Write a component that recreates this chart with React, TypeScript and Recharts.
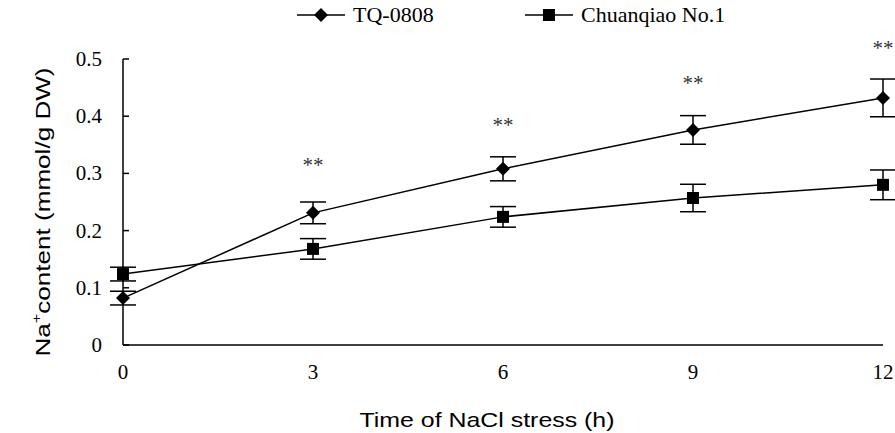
import React from 'react';
import {
  ComposedChart,
  Line,
  XAxis,
  YAxis,
  ErrorBar,
  Legend,
  ReferenceDot
} from 'recharts';

// hours of NaCl stress
const hours = [0, 3, 6, 9, 12];
const tqValues = [0.082, 0.231, 0.308, 0.376, 0.432];
const tqErrors = [0.012, 0.019, 0.021, 0.025, 0.033];
const cqValues = [0.124, 0.168, 0.224, 0.257, 0.28];
const cqErrors = [0.012, 0.018, 0.018, 0.024, 0.026];
// "**" marks (x, y in data units)
const starHours = [3, 6, 9, 12];
const starLevels = [0.315, 0.385, 0.458, 0.52];
const yTicks = [0, 0.1, 0.2, 0.3, 0.4, 0.5];

const data = hours.map((h, i) => ({
  h,
  tq: tqValues[i],
  tqErr: tqErrors[i],
  cq: cqValues[i],
  cqErr: cqErrors[i]
}));

const serif = '"Liberation Serif", "Times New Roman", serif';
const sans = '"Liberation Sans", Arial, sans-serif';

const Diamond = (props: any) => {
  const { cx, cy } = props;
  if (cx == null || cy == null) return null;
  const r = 7;
  return <path d={`M${cx},${cy - r}L${cx + r},${cy}L${cx},${cy + r}L${cx - r},${cy}Z`} fill="#000" />;
};

const Square = (props: any) => {
  const { cx, cy } = props;
  if (cx == null || cy == null) return null;
  return <rect x={cx - 6} y={cy - 6} width={12} height={12} fill="#000" />;
};

const YTick = (props: any) => {
  const { x, y, payload } = props;
  return (
    <g>
      <line x1={x} x2={x + 6} y1={y} y2={y} stroke="#000" strokeWidth={1.5} />
      <text x={x - 21} y={y} dy={7} textAnchor="end" fontFamily={serif} fontSize={21} fill="#000">
        {payload.value}
      </text>
    </g>
  );
};

const XTick = (props: any) => {
  const { x, y, payload } = props;
  return (
    <text x={x} y={y} dy={34} textAnchor="middle" fontFamily={serif} fontSize={21} fill="#000">
      {payload.value}
    </text>
  );
};

const LegendContent = () => {
  const items = [
    { left: 297, label: 'TQ-0808', icon: 'diamond' },
    { left: 525, label: 'Chuanqiao No.1', icon: 'square' }
  ];
  return (
    <div style={{ position: 'relative', width: 895, height: 34 }}>
      {items.map(it => (
        <div key={it.label} style={{ position: 'absolute', left: it.left, top: 2, display: 'flex', alignItems: 'center' }}>
          <svg width={50} height={26}>
            <line x1={0} x2={48} y1={13} y2={13} stroke="#000" strokeWidth={1.5} />
            {it.icon === 'diamond'
              ? <path d="M24,6L31,13L24,20L17,13Z" fill="#000" />
              : <rect x={18} y={7} width={12} height={12} fill="#000" />}
          </svg>
          <span style={{ fontFamily: serif, fontSize: 22, marginLeft: 6, color: '#000' }}>{it.label}</span>
        </div>
      ))}
    </div>
  );
};

const YTitle = () => {
  const cy = 212;
  const cx = 50;
  return (
    <text transform={`rotate(-90 ${cx} ${cy})`} x={cx} y={cy} textAnchor="middle" fontFamily={sans} fontSize={21} fill="#000"
      textLength={289} lengthAdjust="spacingAndGlyphs">
      Na<tspan dy={-9} fontSize={13}>+</tspan><tspan dy={9}>content (mmol/g DW)</tspan>
    </text>
  );
};

const XTitle = () => (
  <text x={487} y={427} textAnchor="middle" fontFamily={sans} fontSize={21} fill="#000"
    textLength={255} lengthAdjust="spacingAndGlyphs">
    Time of NaCl stress (h)
  </text>
);

export default function App() {
  return (
    <div style={{ position: 'absolute', left: 0, top: 0, background: '#fff' }}>
      <ComposedChart width={895} height={433} data={data} margin={{ top: 25, right: 12, bottom: 0, left: 0 }}>
        <Legend verticalAlign="top" align="left" content={<LegendContent />} wrapperStyle={{ top: 0, left: 0 }} />
        <XAxis
          dataKey="h"
          type="number"
          domain={[0, 12]}
          ticks={hours}
          height={88}
          axisLine={{ stroke: '#000', strokeWidth: 1.5 }}
          tickLine={false}
          tickSize={0}
          tickMargin={0}
          tick={<XTick />}
          label={{ content: <XTitle /> }}
        />
        <YAxis
          type="number"
          domain={[0, 0.5]}
          ticks={yTicks}
          width={123}
          tickSize={0}
          tickMargin={0}
          axisLine={{ stroke: '#000', strokeWidth: 1.5 }}
          tickLine={false}
          tick={<YTick />}
          label={{ content: <YTitle /> }}
        />
        <Line type="linear" dataKey="tq" name="TQ-0808" stroke="#000" strokeWidth={1.5} dot={<Diamond />} activeDot={false} isAnimationActive={false}>
          <ErrorBar dataKey="tqErr" width={13} stroke="#000" strokeWidth={1.5} direction="y" />
        </Line>
        <Line type="linear" dataKey="cq" name="Chuanqiao No.1" stroke="#000" strokeWidth={1.5} dot={<Square />} activeDot={false} isAnimationActive={false}>
          <ErrorBar dataKey="cqErr" width={13} stroke="#000" strokeWidth={1.5} direction="y" />
        </Line>
        {starHours.map((h, i) => (
          <ReferenceDot
            key={h}
            x={h}
            y={starLevels[i]}
            r={0}
            ifOverflow="visible"
            label={{ value: '**', position: 'center', style: { fontFamily: serif, fontSize: 21, fill: '#333' } }}
          />
        ))}
      </ComposedChart>
    </div>
  );
}
